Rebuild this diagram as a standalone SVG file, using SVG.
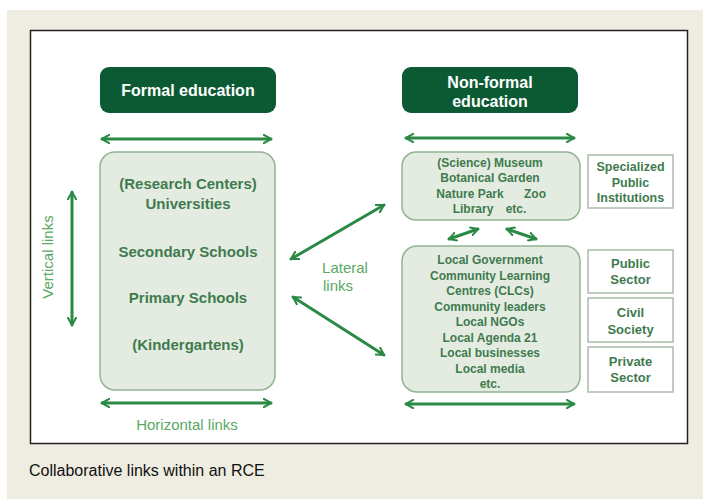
<svg xmlns="http://www.w3.org/2000/svg" width="703" height="499" viewBox="0 0 703 499">
<defs>
<style>
.hdr{fill:#0c5a33}
.hdrt{font-family:"Liberation Sans",Arial,sans-serif;font-weight:bold;font-size:16px;fill:#ffffff;text-anchor:middle}
.pale{fill:#e4ece1;stroke:#93b393;stroke-width:1.5}
.t{font-family:"Liberation Sans",Arial,sans-serif;font-weight:bold;fill:#3f7b4e;text-anchor:middle}
.sq{fill:#ffffff;stroke:#a9bca9;stroke-width:1.5}
.ln{stroke:#2a8a45;stroke-width:3;fill:none;stroke-linecap:round}
.lbl{font-family:"Liberation Sans",Arial,sans-serif;font-size:15px;fill:#5aa865;text-anchor:middle}
</style>
<marker id="ah" viewBox="0 0 10 10" refX="8" refY="5" markerWidth="3.4" markerHeight="3.4" orient="auto-start-reverse" markerUnits="strokeWidth">
<path d="M1,1 L8,5 L1,9" fill="none" stroke="#2a8a45" stroke-width="2" stroke-linecap="round" stroke-linejoin="round"/>
</marker>
</defs>
<rect x="0" y="0" width="703" height="499" fill="#ffffff"/>
<rect x="7" y="10" width="696" height="489" fill="#efede1"/>
<rect x="30.5" y="30.5" width="657" height="413" fill="#ffffff" stroke="#222222" stroke-width="1.5"/>

<g id="formal-header">
<rect class="hdr" x="100" y="67" width="176" height="46" rx="9"/>
<text class="hdrt" x="188" y="96">Formal education</text>
</g>
<g id="formal-box">
<rect class="pale" x="100" y="152" width="175" height="238" rx="15"/>
<text class="t" font-size="15" x="188" y="189">(Research Centers)</text>
<text class="t" font-size="15" x="188" y="209">Universities</text>
<text class="t" font-size="15" x="188" y="257">Secondary Schools</text>
<text class="t" font-size="15" x="188" y="303">Primary Schools</text>
<text class="t" font-size="15" x="188" y="350">(Kindergartens)</text>
</g>
<g id="nonformal-header">
<rect class="hdr" x="402" y="67" width="176" height="46" rx="9"/>
<text class="hdrt" x="490" y="88">Non-formal</text>
<text class="hdrt" x="490" y="107">education</text>
</g>
<g id="institutions-box">
<rect class="pale" x="402" y="152" width="178" height="68" rx="14"/>
<text class="t" font-size="12" x="490" y="167">(Science) Museum</text>
<text class="t" font-size="12" x="490" y="182">Botanical Garden</text>
<text class="t" font-size="12" x="470" y="198">Nature Park</text>
<text class="t" font-size="12" x="535" y="198">Zoo</text>
<text class="t" font-size="12" x="473" y="213">Library</text>
<text class="t" font-size="12" x="516" y="213">etc.</text>
</g>
<g id="specialized">
<rect class="sq" x="588" y="155" width="85" height="53"/>
<text class="t" font-size="12.5" x="630.5" y="171">Specialized</text>
<text class="t" font-size="12.5" x="630.5" y="187">Public</text>
<text class="t" font-size="12.5" x="630.5" y="202">Institutions</text>
</g>
<g id="community-box">
<rect class="pale" x="402" y="246" width="178" height="146" rx="15"/>
<text class="t" font-size="12" x="490" y="264">Local Government</text>
<text class="t" font-size="12" x="490" y="279.5">Community Learning</text>
<text class="t" font-size="12" x="490" y="295">Centres (CLCs)</text>
<text class="t" font-size="12" x="490" y="310.5">Community leaders</text>
<text class="t" font-size="12" x="490" y="326">Local NGOs</text>
<text class="t" font-size="12" x="490" y="341.5">Local Agenda 21</text>
<text class="t" font-size="12" x="490" y="357">Local businesses</text>
<text class="t" font-size="12" x="490" y="372.5">Local media</text>
<text class="t" font-size="12" x="490" y="388">etc.</text>
</g>
<g id="public-sector">
<rect class="sq" x="588" y="250" width="85" height="43"/>
<text class="t" font-size="13" x="630.5" y="268">Public</text>
<text class="t" font-size="13" x="630.5" y="284">Sector</text>
</g>
<g id="civil-society">
<rect class="sq" x="588" y="298" width="85" height="44"/>
<text class="t" font-size="13" x="630.5" y="317">Civil</text>
<text class="t" font-size="13" x="630.5" y="334">Society</text>
</g>
<g id="private-sector">
<rect class="sq" x="588" y="347" width="85" height="45"/>
<text class="t" font-size="13" x="630.5" y="366">Private</text>
<text class="t" font-size="13" x="630.5" y="382">Sector</text>
</g>

<g id="connectors">
<line class="ln" x1="102" y1="139" x2="271" y2="139" marker-start="url(#ah)" marker-end="url(#ah)"/>
<line class="ln" x1="102" y1="403" x2="271" y2="403" marker-start="url(#ah)" marker-end="url(#ah)"/>
<line class="ln" x1="72" y1="192" x2="72" y2="325" marker-start="url(#ah)" marker-end="url(#ah)"/>
<line class="ln" x1="406" y1="138" x2="574" y2="138" marker-start="url(#ah)" marker-end="url(#ah)"/>
<line class="ln" x1="406" y1="404" x2="574" y2="404" marker-start="url(#ah)" marker-end="url(#ah)"/>
<line class="ln" x1="291" y1="259" x2="384" y2="205" marker-start="url(#ah)" marker-end="url(#ah)"/>
<line class="ln" x1="293" y1="297" x2="384" y2="355" marker-start="url(#ah)" marker-end="url(#ah)"/>
<line class="ln" stroke-width="2" x1="449" y1="239" x2="478" y2="229" marker-start="url(#ah)" marker-end="url(#ah)"/>
<line class="ln" stroke-width="2" x1="507" y1="229" x2="536" y2="239" marker-start="url(#ah)" marker-end="url(#ah)"/>
</g>

<text class="lbl" x="187" y="430">Horizontal links</text>
<text class="lbl" transform="translate(53,257) rotate(-90)">Vertical links</text>
<text class="lbl" x="345" y="273">Lateral</text>
<text class="lbl" x="338" y="291">links</text>
<text x="29" y="476" font-family="Liberation Sans,Arial,sans-serif" font-size="16" fill="#111111">Collaborative links within an RCE</text>
</svg>
